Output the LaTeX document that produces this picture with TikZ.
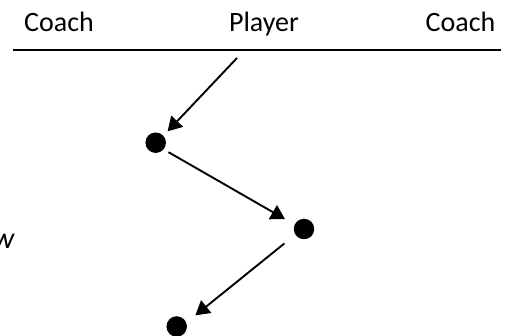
\documentclass[tikz,border=0pt]{standalone}
\usepackage{fontspec}
\setmainfont{Carlito}
\usetikzlibrary{arrows.meta}
\tikzset{
  label/.style={inner sep=0pt, anchor=base, font=\fontsize{28}{30}\selectfont},
  dot/.style={circle, fill=black, draw=none, minimum size=20.5pt, inner sep=0pt},
  pass/.style={line width=1.9pt, -{Triangle[length=14pt, width=16pt]}},
}
\begin{document}
\begin{tikzpicture}[x=1pt, y=-1pt]
  \useasboundingbox (0,0) rectangle (509,336);
  % header
  \node[label] (coachL) at (59,32) {Coach};
  \node[label] (player) at (264,32) {Player};
  \node[label] (coachR) at (460.5,32) {Coach};
  \coordinate (lineL) at (13,50);
  \coordinate (lineR) at (500.5,50);
  \draw[line width=2pt] (lineL) -- (lineR);
  % side caption
  \node[inner sep=0pt, anchor=base east, font=\fontsize{30}{32}\selectfont\itshape] (cap) at (14.5,249) {w};
  % ball positions
  \node[dot] (d1) at (155.7,142.7) {};
  \node[dot] (d2) at (304,229) {};
  \node[dot] (d3) at (176.7,326.5) {};
  \coordinate (start) at (237,58);
  % passes
  \draw[pass, shorten >=6pt] (start) -- (d1.42);
  \draw[pass, shorten <=5.5pt, shorten >=11pt] (d1.-40) -- (d2.155);
  \draw[pass, shorten <=14pt, shorten >=11.5pt] (d2.213) -- (d3.22);
\end{tikzpicture}
\end{document}
